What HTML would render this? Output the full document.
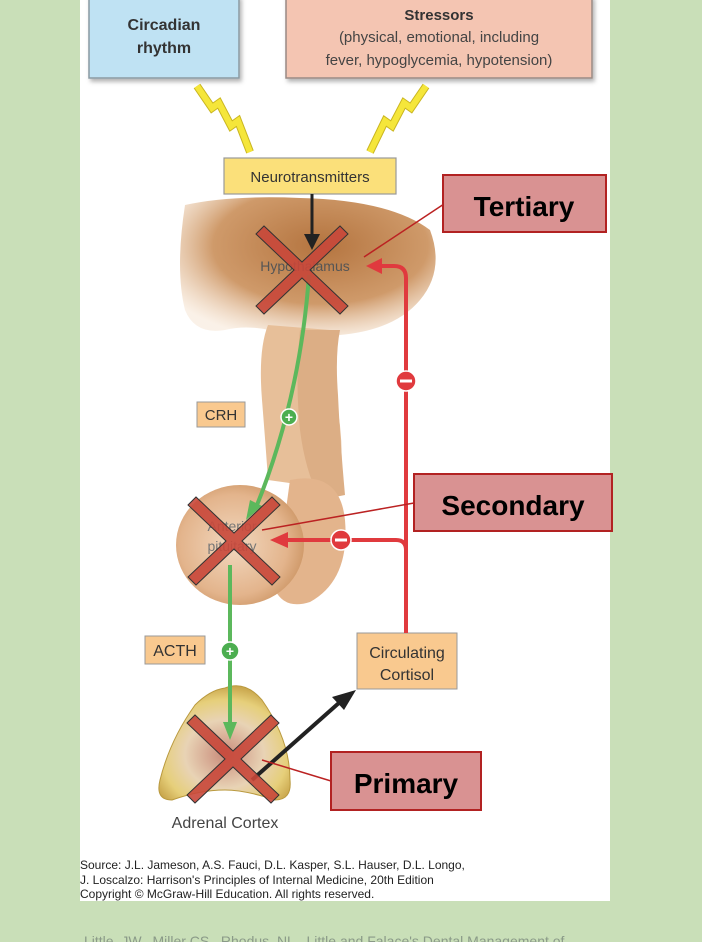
<!DOCTYPE html>
<html><head><meta charset="utf-8"><style>
html,body{margin:0;padding:0;background:#c9dfb8;width:702px;height:942px;overflow:hidden}
svg{display:block}
text{font-family:"Liberation Sans",Arial,sans-serif}
</style></head><body>
<svg width="702" height="942" viewBox="0 0 702 942" xmlns="http://www.w3.org/2000/svg">
<defs>
<radialGradient id="hyp" cx="0.55" cy="0.35" r="0.7">
<stop offset="0" stop-color="#b4743f"/><stop offset="0.6" stop-color="#cf9a6a"/><stop offset="1" stop-color="#f3dcc4" stop-opacity="0.4"/>
</radialGradient>
<radialGradient id="pit" cx="0.45" cy="0.5" r="0.6">
<stop offset="0" stop-color="#f2d8bf"/><stop offset="0.7" stop-color="#e3b48c"/><stop offset="1" stop-color="#c9915f"/>
</radialGradient>
<radialGradient id="adr" cx="0.5" cy="0.6" r="0.6">
<stop offset="0" stop-color="#c98b7a"/><stop offset="0.5" stop-color="#e8d3b5"/><stop offset="0.8" stop-color="#e6cf7a"/><stop offset="1" stop-color="#c9a64c"/>
</radialGradient>
<filter id="sh"><feDropShadow dx="2" dy="3" stdDeviation="2" flood-opacity="0.3"/></filter>
</defs>
<rect x="80" y="0" width="530" height="901" fill="#fff"/>
<rect x="89" y="-4" width="150" height="82" fill="#bfe2f3" stroke="#8a9aa2" stroke-width="1.5" filter="url(#sh)"/>
<text x="164" y="30" font-size="16" font-weight="bold" fill="#333" text-anchor="middle">Circadian</text>
<text x="164" y="53" font-size="16" font-weight="bold" fill="#333" text-anchor="middle">rhythm</text>
<rect x="286" y="-4" width="306" height="82" fill="#f4c5b2" stroke="#9a8a84" stroke-width="1.5" filter="url(#sh)"/>
<text x="439" y="20" font-size="15" font-weight="bold" fill="#333" text-anchor="middle">Stressors</text>
<text x="439" y="42" font-size="15" fill="#444" text-anchor="middle">(physical, emotional, including</text>
<text x="439" y="65" font-size="15" fill="#444" text-anchor="middle">fever, hypoglycemia, hypotension)</text>
<!-- lightning -->
<polyline points="197,86 212,108 219,103 231,126 238,121 250,152" fill="none" stroke="#c9b520" stroke-width="8" stroke-linejoin="miter"/>
<polyline points="197,86 212,108 219,103 231,126 238,121 250,152" fill="none" stroke="#f5e63a" stroke-width="6" stroke-linejoin="miter"/>
<polyline points="426,86 411,108 404,103 392,126 385,121 370,152" fill="none" stroke="#c9b520" stroke-width="8" stroke-linejoin="miter"/>
<polyline points="426,86 411,108 404,103 392,126 385,121 370,152" fill="none" stroke="#f5e63a" stroke-width="6" stroke-linejoin="miter"/>
<rect x="224" y="158" width="172" height="36" fill="#fbe07a" stroke="#999" stroke-width="1.2"/>
<text x="310" y="182" font-size="15" fill="#333" text-anchor="middle">Neurotransmitters</text>
<path d="M185,205 Q230,195 300,198 Q390,200 430,230 Q445,270 420,300 Q395,330 340,335 Q300,338 270,330 Q245,325 225,330 Q195,335 185,310 Q175,270 185,205 Z" fill="url(#hyp)"/>
<path d="M268,325 Q258,350 262,400 Q266,450 268,480 L340,490 Q345,440 335,395 Q325,350 330,330 Z" fill="#e7bf99"/>
<path d="M300,330 Q295,380 300,430 Q305,470 320,500 L345,495 Q340,440 338,395 Q335,355 340,330 Z" fill="#dcae85"/>
<path d="M290,480 Q340,470 345,520 Q350,580 310,602 Q285,610 275,590 Z" fill="#e3b48c"/>
<ellipse cx="240" cy="545" rx="64" ry="60" fill="url(#pit)"/>
<text x="305" y="271" font-size="14" fill="#555" text-anchor="middle">Hypothalamus</text>
<text x="232" y="531" font-size="14" fill="#777" text-anchor="middle">Anterior</text>
<text x="232" y="551" font-size="14" fill="#777" text-anchor="middle">pituitary</text>
<path d="M225,688 Q245,680 262,700 Q290,740 290,780 Q292,800 275,800 Q245,790 225,790 Q200,790 172,800 Q155,800 160,780 Q170,740 195,705 Q210,690 225,688 Z" fill="url(#adr)" stroke="#b9993e" stroke-width="1"/>
<text x="225" y="828" font-size="16" fill="#444" text-anchor="middle">Adrenal Cortex</text>
<rect x="197" y="402" width="48" height="25" fill="#f9c98f" stroke="#999"/>
<text x="221" y="420" font-size="15" fill="#333" text-anchor="middle">CRH</text>
<rect x="145" y="636" width="60" height="28" fill="#f9c98f" stroke="#999"/>
<text x="175" y="656" font-size="16" fill="#333" text-anchor="middle">ACTH</text>
<rect x="357" y="633" width="100" height="56" fill="#f9c98f" stroke="#999"/>
<text x="407" y="658" font-size="16" fill="#333" text-anchor="middle">Circulating</text>
<text x="407" y="680" font-size="16" fill="#333" text-anchor="middle">Cortisol</text>
<line x1="312" y1="194" x2="312" y2="236" stroke="#222" stroke-width="3"/>
<polygon points="304,234 320,234 312,250" fill="#222"/>
<line x1="252" y1="780" x2="340" y2="702" stroke="#222" stroke-width="4"/>
<polygon points="356,690 332,697 344,710" fill="#222"/>
<path d="M309,275 Q300,400 255,510" fill="none" stroke="#5cb85c" stroke-width="4"/>
<polygon points="246,520 250,500 262,506" fill="#5cb85c"/>
<circle cx="289" cy="417" r="8" fill="#4cae50" stroke="#fff" stroke-width="1.5"/>
<text x="289" y="422" font-size="14" font-weight="bold" fill="#fff" text-anchor="middle">+</text>
<line x1="230" y1="565" x2="230" y2="725" stroke="#5cb85c" stroke-width="4"/>
<polygon points="223,722 237,722 230,740" fill="#5cb85c"/>
<circle cx="230" cy="651" r="9" fill="#4cae50" stroke="#fff" stroke-width="1.5"/>
<text x="230" y="656" font-size="14" font-weight="bold" fill="#fff" text-anchor="middle">+</text>
<path d="M406,633 L406,278 Q406,266 394,266 L378,266" fill="none" stroke="#e03a3e" stroke-width="4"/>
<polygon points="366,266 382,258 382,274" fill="#e03a3e"/>
<path d="M406,550 Q406,540 396,540 L285,540" fill="none" stroke="#e03a3e" stroke-width="4"/>
<polygon points="270,540 288,532 288,548" fill="#e03a3e"/>
<circle cx="406" cy="381" r="10" fill="#e03a3e" stroke="#fff" stroke-width="1.5"/>
<rect x="400" y="379.5" width="12" height="3" fill="#fff"/>
<circle cx="341" cy="540" r="10" fill="#e03a3e" stroke="#fff" stroke-width="1.5"/>
<rect x="335" y="538.5" width="12" height="3" fill="#fff"/>
<g stroke="#333" stroke-width="1" fill="#c8473a" fill-opacity="0.9">
<polygon points="256,234 264,226 302,262 340,226 348,234 310,270 348,306 340,314 302,278 264,314 256,306 294,270"/>
<polygon points="188,505 196,497 234,533 272,497 280,505 242,541 280,577 272,585 234,549 196,585 188,577 226,541"/>
<polygon points="187,723 195,715 233,751 271,715 279,723 241,759 279,795 271,803 233,767 195,803 187,795 225,759"/>
</g>
<line x1="364" y1="257" x2="444" y2="204" stroke="#b22" stroke-width="1.5"/>
<rect x="443" y="175" width="163" height="57" fill="#d99292" stroke="#b22222" stroke-width="2"/>
<text x="524" y="216" font-size="28" font-weight="bold" fill="#000" text-anchor="middle">Tertiary</text>
<line x1="262" y1="530" x2="414" y2="503" stroke="#b22" stroke-width="1.5"/>
<rect x="414" y="474" width="198" height="57" fill="#d99292" stroke="#b22222" stroke-width="2"/>
<text x="513" y="515" font-size="28" font-weight="bold" fill="#000" text-anchor="middle">Secondary</text>
<line x1="262" y1="760" x2="331" y2="781" stroke="#b22" stroke-width="1.5"/>
<rect x="331" y="752" width="150" height="58" fill="#d99292" stroke="#b22222" stroke-width="2"/>
<text x="406" y="793" font-size="28" font-weight="bold" fill="#000" text-anchor="middle">Primary</text>
<text x="80" y="869" font-size="12" fill="#222">Source: J.L. Jameson, A.S. Fauci, D.L. Kasper, S.L. Hauser, D.L. Longo,</text>
<text x="80" y="884" font-size="12" fill="#222">J. Loscalzo: Harrison's Principles of Internal Medicine, 20th Edition</text>
<text x="80" y="898" font-size="12" fill="#222">Copyright © McGraw-Hill Education. All rights reserved.</text>
<text x="84" y="946" font-size="14" fill="#8a9a88">Little, JW., Miller CS., Rhodus, NL., Little and Falace's Dental Management of</text>
</svg>
</body></html>
